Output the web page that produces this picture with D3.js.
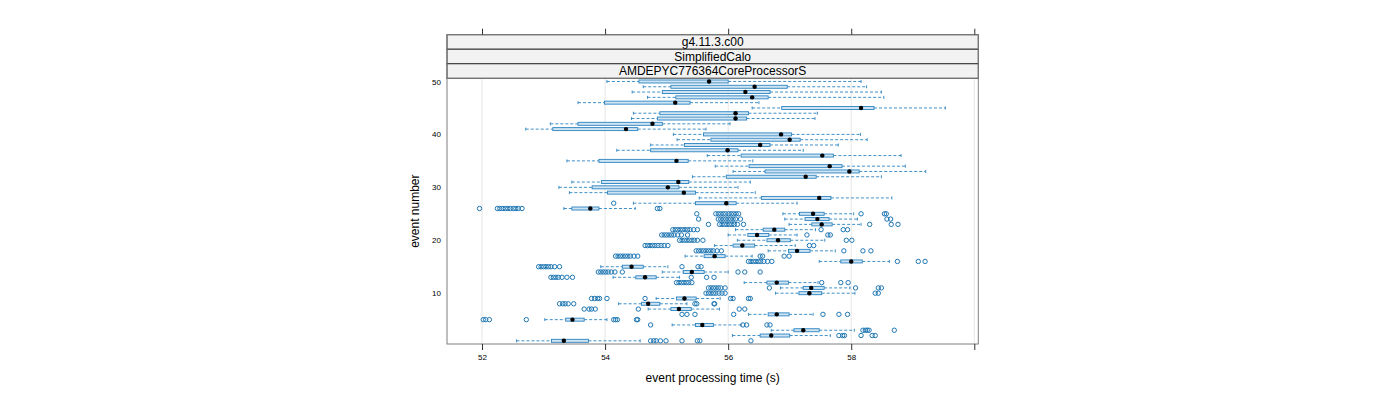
<!DOCTYPE html>
<html><head><meta charset="utf-8">
<script src="https://cdn.jsdelivr.net/npm/d3@7"></script>
<style>body{margin:0;background:#fff}svg{display:block;font-family:"Liberation Sans",Arial,Helvetica,sans-serif}</style>
</head><body><svg id="c" width="1400" height="400"></svg>
<script>
const events=[1,2,3,4,5,6,7,8,9,10,11,12,13,14,15,16,17,18,19,20,21,22,23,24,25,26,27,28,29,30,31,32,33,34,35,36,37,38,39,40,41,42,43,44,45,46,47,48,49,50];
const whiskerLow=[52.56,56.07,56.70,55.09,53.02,56.33,54.70,54.22,54.83,56.77,56.85,56.26,54.13,54.93,53.93,57.48,55.30,56.65,55.78,56.15,56.00,56.12,56.99,56.92,56.89,53.33,54.46,55.53,53.42,53.25,53.46,55.42,56.08,55.79,53.38,55.66,54.19,54.74,55.17,55.11,52.71,53.11,54.43,54.46,56.39,53.56,54.69,54.44,54.62,54.03];
const q1=[53.13,56.52,57.07,55.47,53.36,56.65,55.07,54.59,55.16,57.15,57.22,56.63,54.50,55.27,54.28,57.83,55.61,56.98,56.08,56.63,56.32,56.57,57.36,57.25,57.16,53.46,55.47,56.54,54.04,53.79,53.94,55.97,56.60,56.34,53.90,56.21,54.74,55.29,55.72,55.60,53.15,53.56,54.85,54.89,56.87,53.99,55.15,54.93,55.07,54.55];
const median=[53.33,56.70,57.22,55.58,53.47,56.79,55.20,54.70,55.29,57.32,57.35,56.79,54.65,55.41,54.43,58.00,55.78,57.12,56.23,56.81,56.47,56.75,57.52,57.45,57.38,53.76,55.97,57.48,55.28,55.02,55.19,57.26,57.97,57.65,55.16,57.53,55.99,56.52,57.00,56.86,54.34,54.77,56.12,56.12,58.16,55.14,56.39,56.28,56.43,55.69];
const q3=[53.73,57.00,57.48,55.76,53.66,56.99,55.40,54.89,55.48,57.52,57.56,56.98,54.83,55.61,54.62,58.18,55.95,57.33,56.43,57.01,56.66,56.92,57.69,57.64,57.56,53.90,56.13,57.67,55.47,55.20,55.36,57.43,58.13,57.85,55.35,57.71,56.16,56.68,57.17,57.03,54.53,54.93,56.30,56.33,58.37,55.38,56.65,56.68,56.96,56.00];
const whiskerHigh=[54.57,57.66,58.05,56.21,54.03,57.38,55.86,55.33,55.87,58.06,57.98,57.46,55.21,56.00,55.02,58.62,56.39,57.74,57.09,57.57,57.12,57.42,58.16,58.10,58.04,54.49,57.12,58.66,56.44,56.16,56.36,58.49,59.21,58.88,56.40,58.81,57.22,57.79,58.26,58.15,55.64,56.03,57.41,57.45,59.53,56.50,58.53,58.49,58.25,58.16];
const outliers=[
 [54.74,54.79,54.83,54.90,54.99,55.25,55.50,55.54,56.37],
 [57.80,57.86,57.89,58.16,58.34,58.39],
 [58.19,58.23,58.26,58.29,58.70],
 [54.74,56.24,56.30,56.63,56.68],
 [52.02,52.06,52.12,52.72,54.14,54.17,54.20,54.51,54.53],
 [55.25,55.33,55.46,56.09,57.54,57.80,57.94],
 [53.66,53.74,53.78,53.84,54.54,56.18,56.27],
 [53.26,53.31,53.35,53.40,53.49,55.46,55.49,55.77,55.78],
 [53.78,53.83,53.88,53.91,54.03,54.65,56.04,56.08,56.33,56.36],
 [55.64,55.68,55.72,55.76,55.80,55.85,55.90,55.95,58.39,58.44],
 [55.68,55.72,55.76,55.80,55.84,55.88,55.95,56.67,58.07,58.44,58.49],
 [55.16,55.20,55.24,55.28,55.32,55.36,55.41,57.52,57.83,57.95],
 [53.12,53.16,53.20,53.24,53.30,53.38,53.47,55.40,55.65,55.77],
 [53.89,53.93,53.97,54.01,54.05,54.10,54.16,54.28,56.16,56.27,56.52],
 [52.92,52.96,53.00,53.04,53.08,53.12,53.18,53.26,55.25,55.51,55.56],
 [56.33,56.37,56.41,56.45,56.49,56.53,56.58,56.64,56.71,58.75,59.09,59.20],
 [54.17,54.21,54.25,54.29,54.33,54.37,54.41,54.47,54.53,56.52,56.56,56.91,56.99],
 [55.48,55.52,55.56,55.60,55.64,55.68,55.72,55.76,55.82,55.89,57.88,58.19,58.32],
 [54.65,54.69,54.73,54.77,54.81,54.86,54.91,54.96,55.02,57.32,57.39],
 [55.21,55.25,55.29,55.33,55.37,55.41,55.45,55.50,55.59,57.92,58.01],
 [54.92,54.96,55.00,55.04,55.08,55.12,55.18,55.24,55.34,57.28,57.62,57.66],
 [55.10,55.14,55.18,55.22,55.26,55.30,55.34,55.38,55.44,55.50,57.51,57.87,57.94],
 [55.68,55.86,55.90,55.94,55.98,56.02,56.06,56.10,56.15,56.25,58.30,58.65,58.76],
 [55.52,55.84,55.88,55.92,55.96,56.00,56.04,56.08,56.12,56.20,58.58,58.64],
 [55.49,55.80,55.84,55.88,55.92,55.96,56.01,56.05,56.09,56.13,56.17,58.16,58.54,58.57],
 [51.96,52.25,52.29,52.34,52.38,52.42,52.46,52.51,52.55,52.59,52.65,54.85,54.89],
 [54.14],
 [],[],[],[],[],[],[],[],[],[],[],[],[],[],[],[],[],[],[],[],[],[]
];
const xTicks=[52,54,56,58,60];
const xTickLabels=["52","54","56","58"];
const yTicks=[10,20,30,40,50];
const strips=["g4.11.3.c00","SimplifiedCalo","AMDEPYC776364CoreProcessorS"];

const svg=d3.select("#c");
const L=447,R=978.3,T=78.3,B=344,stripTop=34.7;
const x=d3.scaleLinear().domain([51.431,60.065]).range([L,R]);
const y=d3.scaleLinear().domain([0.4,50.6]).range([B,T]);
const blue="#2b83c1", ptBlue="#1f77b4", boxFill="#cfe4f3";

// grid
svg.append("g").selectAll("line").data(xTicks).join("line")
 .attr("x1",d=>x(d)).attr("x2",d=>x(d)).attr("y1",T).attr("y2",B)
 .attr("stroke","#e6e6e6").attr("stroke-width",1);

const rows=events.map((e,i)=>({e,lo:whiskerLow[i],q1:q1[i],med:median[i],q3:q3[i],hi:whiskerHigh[i],out:outliers[i]||[]}));
const g=svg.append("g");
const bh=1.5;
// whiskers
g.selectAll(".wl").data(rows).join("line").attr("x1",d=>x(d.lo)).attr("x2",d=>x(d.q1))
 .attr("y1",d=>y(d.e)).attr("y2",d=>y(d.e)).attr("stroke",blue).attr("stroke-width",0.9).attr("stroke-dasharray","3,2");
g.selectAll(".wh").data(rows).join("line").attr("x1",d=>x(d.q3)).attr("x2",d=>x(d.hi))
 .attr("y1",d=>y(d.e)).attr("y2",d=>y(d.e)).attr("stroke",blue).attr("stroke-width",0.9).attr("stroke-dasharray","3,2");
// caps
g.selectAll(".cl").data(rows).join("line").attr("x1",d=>x(d.lo)).attr("x2",d=>x(d.lo))
 .attr("y1",d=>y(d.e)-bh).attr("y2",d=>y(d.e)+bh).attr("stroke",blue).attr("stroke-width",0.9);
g.selectAll(".ch").data(rows).join("line").attr("x1",d=>x(d.hi)).attr("x2",d=>x(d.hi))
 .attr("y1",d=>y(d.e)-bh).attr("y2",d=>y(d.e)+bh).attr("stroke",blue).attr("stroke-width",0.9);
// boxes
g.selectAll("rect").data(rows).join("rect").attr("x",d=>x(d.q1)).attr("width",d=>x(d.q3)-x(d.q1))
 .attr("y",d=>y(d.e)-bh).attr("height",2*bh).attr("fill",boxFill).attr("stroke",blue).attr("stroke-width",0.9);
// outliers
const outs=rows.flatMap(d=>d.out.map(v=>({e:d.e,v})));
g.selectAll(".o").data(outs).join("circle").attr("cx",d=>x(d.v)).attr("cy",d=>y(d.e)).attr("r",2.2)
 .attr("fill","none").attr("stroke",ptBlue).attr("stroke-width",1);
// medians
g.selectAll(".m").data(rows).join("circle").attr("cx",d=>x(d.med)).attr("cy",d=>y(d.e)).attr("r",2.2).attr("fill","#000");

// panel border
svg.append("rect").attr("x",L).attr("y",T).attr("width",R-L).attr("height",B-T).attr("fill","none").attr("stroke","#7f7f7f").attr("stroke-width",1);

// strips
const sh=(T-stripTop)/3;
strips.forEach((s,i)=>{
 const yy=stripTop+i*sh;
 svg.append("rect").attr("x",L).attr("y",yy).attr("width",R-L).attr("height",sh).attr("fill","#f2f2f2").attr("stroke","#333").attr("stroke-width",1);
 svg.append("text").attr("x",(L+R)/2).attr("y",yy+sh/2+4.2).attr("text-anchor","middle").attr("font-size",12).attr("fill","#000").text(s);
});
svg.append("rect").attr("x",L).attr("y",stripTop).attr("width",R-L).attr("height",T-stripTop).attr("fill","none").attr("stroke","#7f7f7f").attr("stroke-width",1);

// x axes
const topAx=d3.axisTop(x).tickValues(xTicks).tickSize(6).tickFormat("");
svg.append("g").attr("transform",`translate(0,${stripTop})`).call(topAx).call(s=>s.select(".domain").remove()).selectAll("line").attr("stroke","#333");
const botAx=d3.axisBottom(x).tickValues(xTicks).tickSize(6).tickFormat((d,i)=>xTickLabels[i]||"");
const bg=svg.append("g").attr("transform",`translate(0,${B})`).call(botAx);
bg.select(".domain").remove();
bg.selectAll("line").attr("stroke","#333");
bg.selectAll("text").attr("font-size",8).attr("font-family","Liberation Sans, Arial, sans-serif").attr("fill","#000").attr("dy","1.1em").attr("y",7);
// y labels
const lg=svg.append("g").attr("transform",`translate(${L},0)`).call(d3.axisLeft(y).tickValues(yTicks).tickSize(0).tickPadding(6));
lg.select(".domain").remove();
lg.selectAll("text").attr("font-size",8).attr("font-family","Liberation Sans, Arial, sans-serif").attr("fill","#000");

// titles
svg.append("text").attr("x",(L+R)/2).attr("y",382).attr("text-anchor","middle").attr("font-size",12).text("event processing time (s)");
svg.append("text").attr("transform",`translate(419,${(T+B)/2}) rotate(-90)`).attr("text-anchor","middle").attr("font-size",12).text("event number");
</script></body></html>
